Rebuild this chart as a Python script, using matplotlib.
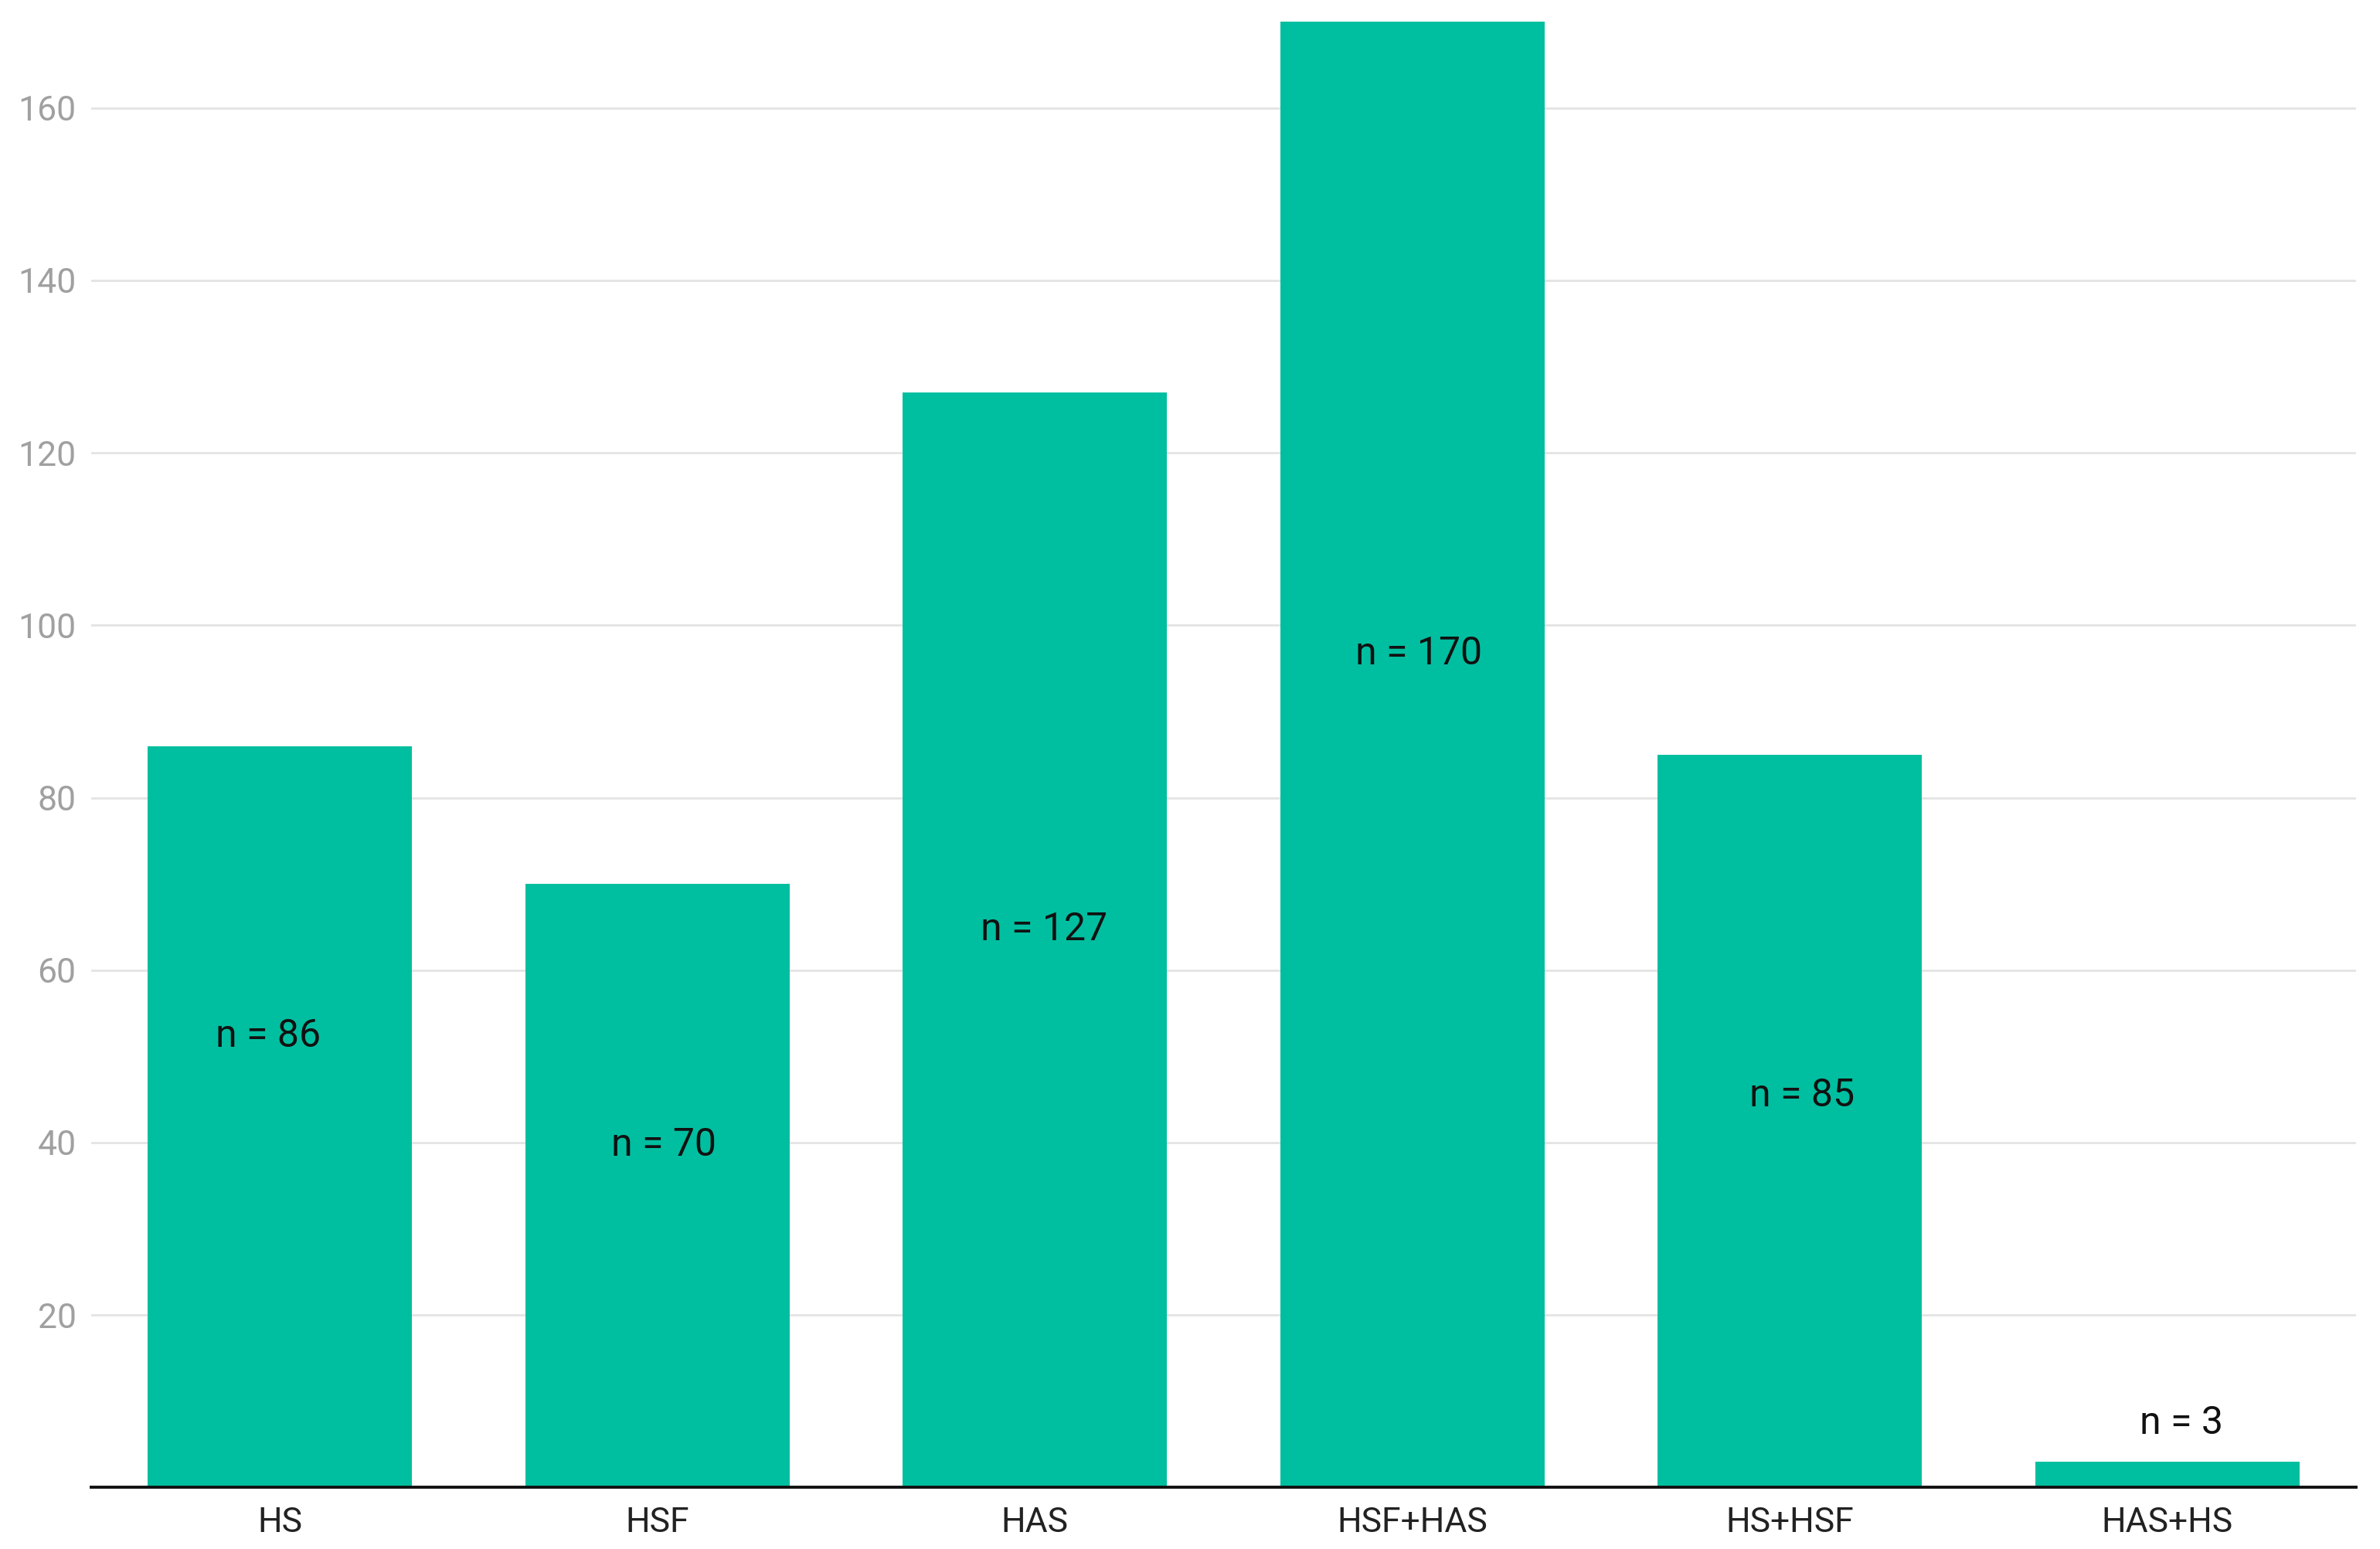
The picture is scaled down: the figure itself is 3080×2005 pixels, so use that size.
import matplotlib
matplotlib.use("Agg")
import matplotlib.pyplot as plt
import numpy as np

# data
groups = ["HS", "HSF", "HAS", "HSF+HAS", "HS+HSF", "HAS+HS"]
counts = [86, 70, 127, 170, 85, 3]
# where each "n = .." label sits: height in data units, small x shift from bar centre
label_y = [52.4, 39.7, 64.7, 96.7, 45.5, 7.5]
label_dx = [-0.032, 0.016, 0.024, 0.016, 0.032, 0.036]
yticks = [20, 40, 60, 80, 100, 120, 140, 160]

plt.rcParams["font.family"] = ["Roboto", "DejaVu Sans"]

fig = plt.figure(figsize=(15.4, 10.025), dpi=200)
ax = fig.add_axes([0.0383, 0.0397, 0.9517, 0.9463])

x = np.arange(len(groups))
ax.bar(x, counts, width=0.7, color="#00BFA0", zorder=2)

for xi, n, ly, dx in zip(x, counts, label_y, label_dx):
    ax.text(xi + dx, ly, f"n = {n}", ha="center", va="center",
            fontsize=18, color="#111111", zorder=3)

ax.set_xlim(-0.5, len(groups) - 0.5)
ax.set_ylim(0, 170)
ax.set_xticks(x)
ax.set_xticklabels(groups, fontsize=16, color="#222222")
ax.set_yticks(yticks)
ax.set_yticklabels([str(t) for t in yticks], fontsize=16, color="#a0a0a0")
ax.tick_params(axis="both", length=0)
ax.tick_params(axis="y", pad=7)
ax.tick_params(axis="x", pad=9)

ax.yaxis.grid(True, color="#e4e4e4", linewidth=1.0, zorder=0)
ax.set_axisbelow(True)
for side in ["top", "right", "left"]:
    ax.spines[side].set_visible(False)
ax.spines["bottom"].set_color("#111111")
ax.spines["bottom"].set_linewidth(1.4)
ax.spines["bottom"].set_zorder(4)

fig.savefig("out.png", dpi=200, facecolor="white")
